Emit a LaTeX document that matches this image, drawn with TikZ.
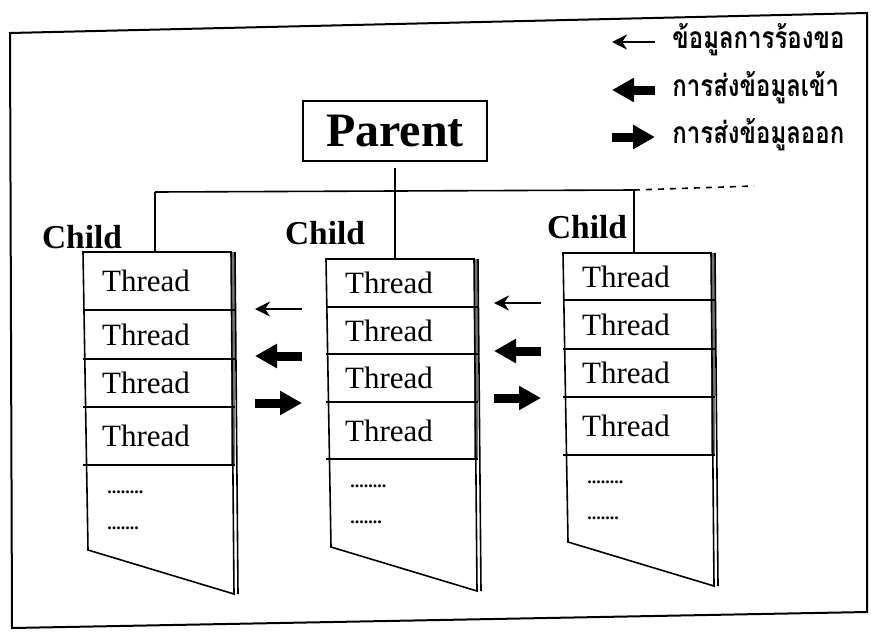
\documentclass[tikz,border=0pt]{standalone}
\usepackage{fontspec}
\setmainfont{Liberation Serif}
\newfontfamily\thai[Script=Thai,FakeStretch=0.8]{Loma}
\usepackage{tikz}
\usetikzlibrary{arrows.meta}

\begin{document}
\begin{tikzpicture}[x=0.5pt,y=-0.5pt,
   every node/.style={inner sep=0pt},
   box/.style={line width=0.8pt},
   thr/.style={font=\fontsize{15.5}{16}\selectfont},
   kid/.style={font=\fontsize{16.7}{17}\selectfont\bfseries},
   dots/.style={font=\fontsize{9}{9}\selectfont\bfseries,anchor=west},
   ask/.style={line width=1pt,-{Stealth[length=7.5pt,width=7.5pt]}},
   fat/.style={line width=4.5pt,-{Triangle[length=11pt,width=11.5pt]}},
   note/.style={font=\thai\bfseries\fontsize{15}{15}\selectfont,anchor=west}]
   \useasboundingbox (0,0) rectangle (871,632);
   \draw[line width=1pt] (10,33) -- (867,13) -- (867,612) -- (12,628) -- cycle;

   \draw[ask] (655,42) -- (612,42);
   \draw[fat] (655,90) -- (612,90);
   \draw[fat] (612,137) -- (655,137);
   \draw (672,40) node[note] (req) {ข้อมูลการร้องขอ};
   \draw (672,88) node[note] (inp) {การส่งข้อมูลเข้า};
   \draw (672,135) node[note] (outp) {การส่งข้อมูลออก};

   \draw (395,131) node[draw,box,minimum width=92pt,minimum height=30pt,
      font=\fontsize{24}{24}\selectfont\bfseries] (parent) {Parent};

   \coordinate (bus1) at (155,192);
   \coordinate (bus3) at (634,190);
   \coordinate (dashend) at (754,186);
   \coordinate (top1) at (155,252);
   \coordinate (top2) at (395,259);
   \coordinate (top3) at (634,253);

   \draw (82,237) node[kid] (child1) {Child};
   \draw (325,233) node[kid] (child2) {Child};
   \draw (587,227) node[kid] (child3) {Child};

   \path[box] (top1) edge (bus1) (bus1) edge (bus3) (bus3) edge (top3);
   \path[box,dashed] (bus3) edge (dashend);
   \path[box,shorten <=3pt] (parent.south) edge (top2);

   \foreach \n/\X/\Y/\a/\b/\c/\d/\e in {1/83/252/58/107/155/213/298,
        2/326/259/48/95/143/200/288, 3/563/253/47/96/144/202/289}{
      \fill[black!55] ({\X+148},\Y) rectangle ({\X+152},{\Y+\d});
      \draw[box] ({\X+148},\Y) -- (\X,\Y) -- ({\X+5},{\Y+\e}) -- ({\X+151},{\Y+\e+44}) -- cycle;
      \draw[box] ({\X+152},\Y) -- ({\X+155},{\Y+\e+44});
      \foreach \r in {\a,\b,\c,\d}
         \draw[box] (\X,{\Y+\r}) -- ({\X+152},{\Y+\r});
      \draw ({\X+63},{\Y+\a/2}) node[thr] (t\n1) {Thread};
      \draw ({\X+63},{\Y+(\a+\b)/2}) node[thr] (t\n2) {Thread};
      \draw ({\X+63},{\Y+(\b+\c)/2}) node[thr] (t\n3) {Thread};
      \draw ({\X+63},{\Y+(\c+\d)/2}) node[thr] (t\n4) {Thread};
      \draw ({\X+24},{\Y+\d+27}) node[dots] (d\n1) {........};
      \draw ({\X+24},{\Y+\d+63}) node[dots] (d\n2) {.......};
   }

   \foreach \xl/\xr/\ya/\yb/\yc in {255/302/309/356/403, 494/541/303/351/398}{
      \draw[ask] (\xr,\ya) -- (\xl,\ya);
      \draw[fat] (\xr,\yb) -- (\xl,\yb);
      \draw[fat] (\xl,\yc) -- (\xr,\yc);
   }
\end{tikzpicture}
\end{document}
